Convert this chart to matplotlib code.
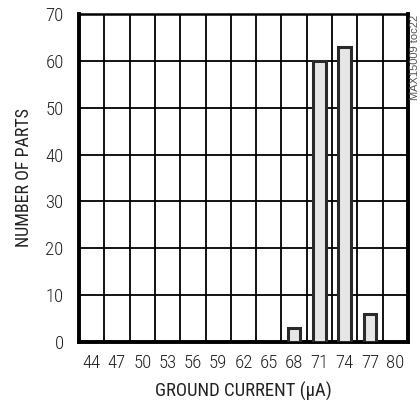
import matplotlib
matplotlib.use("Agg")
import matplotlib.pyplot as plt
import numpy as np

plt.rcParams['font.family'] = ['Roboto Condensed', 'DejaVu Sans']
plt.rcParams['font.weight'] = 'light'

# histogram bins (ground current, uA) and counts
currents = ["44", "47", "50", "53", "56", "59", "62", "65", "68", "71", "74", "77", "80"]
counts = [0, 0, 0, 0, 0, 0, 0, 0, 3, 60, 63, 6, 0]
y_ticks = [0, 10, 20, 30, 40, 50, 60, 70]

fig = plt.figure(figsize=(4.2, 4.07), dpi=100)
ax = fig.add_axes([79 / 420, 1 - 342 / 407, 329 / 420, 328 / 407])

x = np.arange(len(currents))
vals = np.array(counts)
nz = vals > 0
ax.bar(x[nz], vals[nz], width=0.5, color='#e6e6e6', edgecolor='#2a2a2a', linewidth=2.2, zorder=3)

ax.set_xlim(-0.5, len(currents) - 0.5)
ax.set_ylim(0, 70)
ax.set_xticks(x)
ax.set_xticklabels(currents)
ax.set_xticks(np.arange(-0.5, len(currents), 1), minor=True)
ax.set_yticks(y_ticks)
ax.grid(True, which='minor', axis='x', color='black', linewidth=1.3, zorder=1)
ax.grid(True, which='major', axis='y', color='black', linewidth=1.3, zorder=1)
ax.tick_params(which='both', length=0, labelsize=13.5, colors='#222222')
ax.tick_params(axis='x', pad=9)
ax.tick_params(axis='y', pad=11)
for side in ['left', 'bottom', 'right']:
    ax.spines[side].set_linewidth(2.8)
ax.spines['top'].set_linewidth(1.8)

ax.set_xlabel("GROUND CURRENT (\u03bcA)", fontsize=13.5, labelpad=7, color='#222222')
ax.set_ylabel("NUMBER OF PARTS", fontsize=13, labelpad=9, color='#222222')

fig.text(415 / 420, 1 - 15 / 407, "MAX15009 toc22", rotation=90, fontsize=8,
         family=['Liberation Sans', 'DejaVu Sans'], weight='normal',
         color='#555555', ha='center', va='top')

fig.savefig("out.png", dpi=100)
